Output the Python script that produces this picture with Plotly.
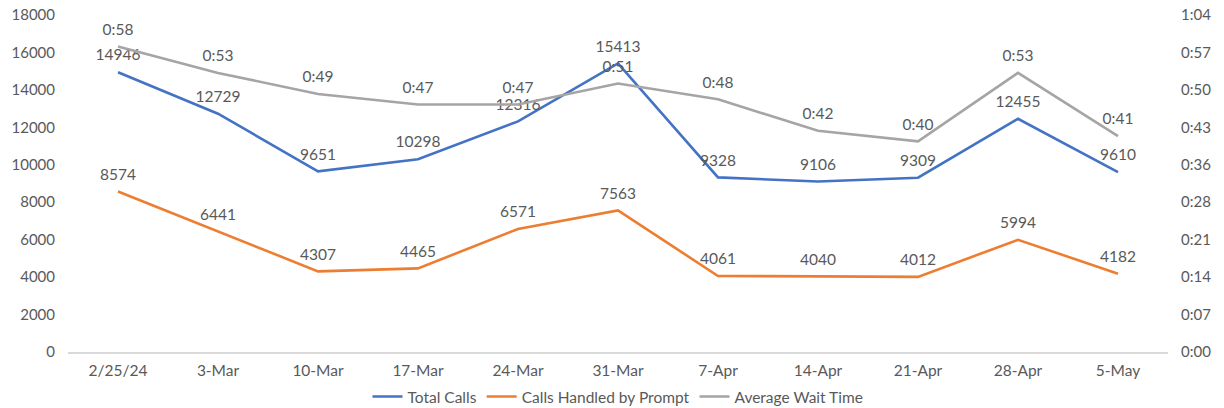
import plotly.graph_objects as go

categories = ["2/25/24", "3-Mar", "10-Mar", "17-Mar", "24-Mar", "31-Mar",
              "7-Apr", "14-Apr", "21-Apr", "28-Apr", "5-May"]
total_calls = [14946, 12729, 9651, 10298, 12316, 15413, 9328, 9106, 9309, 12455, 9610]
prompt_calls = [8574, 6441, 4307, 4465, 6571, 7563, 4061, 4040, 4012, 5994, 4182]
wait_seconds = [58, 53, 49, 47, 47, 51, 48, 42, 40, 53, 41]
left_ticks = list(range(0, 18001, 2000))
right_ticktext = ["0:00", "0:07", "0:14", "0:21", "0:28", "0:36", "0:43", "0:50", "0:57", "1:04"]
right_max = 64

FONT = "Lato"
TXT = "#595959"
FS = 15.5

def mmss(s):
    return f"{s // 60}:{s % 60:02d}"

x = list(range(len(categories)))
invisible = dict(size=11, color="rgba(0,0,0,0)", line=dict(width=0))

fig = go.Figure()
fig.add_trace(go.Scatter(
    x=x, y=total_calls, name="Total Calls", mode="lines+markers+text",
    line=dict(color="#4472C4", width=2.6), marker=invisible,
    text=[str(v) for v in total_calls], textposition="top center",
    textfont=dict(family=FONT, size=FS, color=TXT),
))
fig.add_trace(go.Scatter(
    x=x, y=prompt_calls, name="Calls Handled by Prompt", mode="lines+markers+text",
    line=dict(color="#ED7D31", width=2.6), marker=invisible,
    text=[str(v) for v in prompt_calls], textposition="top center",
    textfont=dict(family=FONT, size=FS, color=TXT),
))
fig.add_trace(go.Scatter(
    x=x, y=wait_seconds, name="Average Wait Time", mode="lines+markers+text",
    yaxis="y2",
    line=dict(color="#A5A5A5", width=2.6), marker=invisible,
    text=[mmss(v) for v in wait_seconds], textposition="top center",
    textfont=dict(family=FONT, size=FS, color=TXT),
))

fig.update_layout(
    width=1224, height=408,
    margin=dict(l=68, r=56, t=15, b=56, autoexpand=False),
    paper_bgcolor="white", plot_bgcolor="white",
    font=dict(family=FONT, size=FS, color=TXT),
    showlegend=True,
    legend=dict(orientation="h", x=0.5, xanchor="center", y=-0.1335, yanchor="middle",
                font=dict(family=FONT, size=FS, color=TXT), itemwidth=30,
                tracegroupgap=0, bgcolor="rgba(0,0,0,0)"),
    xaxis=dict(
        range=[-0.5, len(categories) - 0.5],
        tickmode="array", tickvals=x, ticktext=categories,
        showgrid=False, zeroline=False, showline=True,
        linecolor="#D9D9D9", linewidth=1.5, ticks="",
        ticklabelstandoff=4, automargin=False,
        tickfont=dict(family=FONT, size=FS, color=TXT),
    ),
    yaxis=dict(
        range=[0, 18000], tickmode="array", tickvals=left_ticks,
        ticktext=[str(v) for v in left_ticks],
        showgrid=False, zeroline=False, showline=False, ticks="",
        ticklabelstandoff=12, automargin=False,
        tickfont=dict(family=FONT, size=FS - 0.5, color=TXT),
    ),
    yaxis2=dict(
        range=[0, right_max], overlaying="y", side="right",
        tickmode="array",
        tickvals=[i * right_max / 9 for i in range(10)],
        ticktext=right_ticktext,
        showgrid=False, zeroline=False, showline=False, ticks="",
        ticklabelstandoff=12, automargin=False,
        tickfont=dict(family=FONT, size=FS - 0.5, color=TXT),
    ),
)

fig.write_html("out.html",
               config={"displayModeBar": False},
               post_script="document.body.style.margin='0';document.body.style.overflow='hidden';")
